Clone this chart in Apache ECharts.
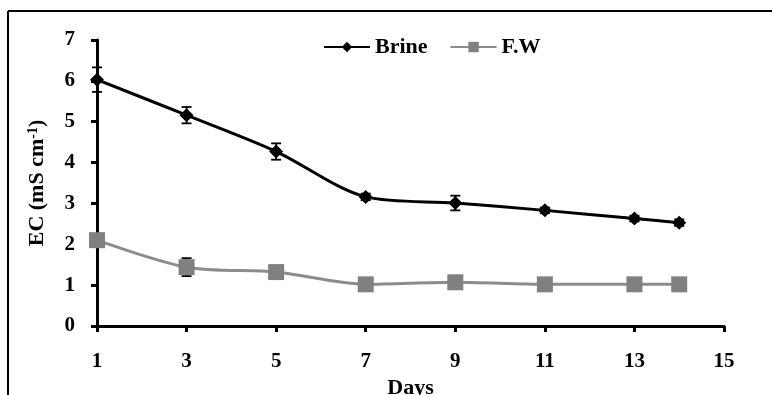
<!DOCTYPE html>
<html>
<head>
<meta charset="utf-8">
<script src="https://cdn.jsdelivr.net/npm/echarts@6/dist/echarts.min.js"></script>
<style>
html, body { margin: 0; padding: 0; background: #fff; }
#chart { width: 772px; height: 395px; }
</style>
</head>
<body>
<div id="chart"></div>
<script>
// data
var days = [1, 3, 5, 7, 9, 11, 13, 14];
var brine = [6.03, 5.16, 4.27, 3.16, 3.01, 2.83, 2.63, 2.53];
var brineErr = [0.3, 0.2, 0.2, 0.08, 0.18, 0.07, 0.07, 0.08];
var fw = [2.1, 1.44, 1.32, 1.02, 1.07, 1.02, 1.02, 1.02];
var fwErr = [0.1, 0.22, 0.07, 0.05, 0.05, 0.05, 0.05, 0.05];
var xTicks = [1, 3, 5, 7, 9, 11, 13, 15];

var chart = echarts.init(document.getElementById('chart'));

var font = 'Liberation Serif, Times New Roman, serif';

function pairs(xs, ys) {
    var out = [];
    for (var i = 0; i < xs.length; i++) out.push([xs[i], ys[i]]);
    return out;
}
function errData(xs, ys, es) {
    var out = [];
    for (var i = 0; i < xs.length; i++) out.push([xs[i], ys[i] - es[i], ys[i] + es[i]]);
    return out;
}
function errBars(color) {
    return function (params, api) {
        var lo = api.coord([api.value(0), api.value(1)]);
        var hi = api.coord([api.value(0), api.value(2)]);
        var w = 5;
        var st = { stroke: color, lineWidth: 1.8 };
        return {
            type: 'group',
            children: [
                { type: 'line', shape: { x1: lo[0], y1: lo[1], x2: hi[0], y2: hi[1] }, style: st },
                { type: 'line', shape: { x1: lo[0] - w, y1: lo[1], x2: lo[0] + w, y2: lo[1] }, style: st },
                { type: 'line', shape: { x1: hi[0] - w, y1: hi[1], x2: hi[0] + w, y2: hi[1] }, style: st }
            ]
        };
    };
}

var option = {
    animation: false,
    backgroundColor: '#fff',
    textStyle: { fontFamily: font },
    graphic: [
        { type: 'line', shape: { x1: 8, y1: 11, x2: 772, y2: 11 }, style: { stroke: '#000', lineWidth: 2 } },
        { type: 'line', shape: { x1: 8, y1: 11, x2: 8, y2: 395 }, style: { stroke: '#000', lineWidth: 2 } }
    ],
    grid: { left: 97, right: 48, top: 40, bottom: 69, outerBoundsMode: 'none' },
    legend: {
        left: 318,
        top: 31,
        itemWidth: 46,
        itemHeight: 13,
        itemGap: 22,
        textStyle: { fontFamily: font, fontWeight: 'bold', fontSize: 22, color: '#000' },
        data: ['Brine', 'F.W']
    },
    xAxis: {
        type: 'value',
        min: 1,
        max: 15,
        interval: 2,
        name: 'Days',
        nameLocation: 'middle',
        nameGap: 50,
        nameTextStyle: { fontFamily: font, fontWeight: 'bold', fontSize: 22, color: '#000' },
        axisLine: { lineStyle: { color: '#000', width: 3 } },
        axisTick: { show: true, length: 6, lineStyle: { color: '#000', width: 3 } },
        axisLabel: { margin: 25, fontFamily: font, fontWeight: 'bold', fontSize: 21, color: '#000' },
        splitLine: { show: false }
    },
    yAxis: {
        type: 'value',
        min: 0,
        max: 7,
        interval: 1,
        name: '{a|EC (mS cm}{b|-1}{a|)}',
        nameLocation: 'middle',
        nameGap: 48,
        nameTextStyle: {
            rich: {
                a: { fontFamily: font, fontWeight: 'bold', fontSize: 22, color: '#000' },
                b: { fontFamily: font, fontWeight: 'bold', fontSize: 14, color: '#000', verticalAlign: 'top', padding: [0, 0, 9, 0] }
            }
        },
        axisLine: { show: true, lineStyle: { color: '#000', width: 3 } },
        axisTick: { show: true, length: 6, lineStyle: { color: '#000', width: 3 } },
        axisLabel: { margin: 22, fontFamily: font, fontWeight: 'bold', fontSize: 21, color: '#000' },
        splitLine: { show: false }
    },
    series: [
        {
            name: 'Brine',
            type: 'line',
            smooth: 0.3,
            data: pairs(days, brine),
            symbol: 'diamond',
            symbolSize: 14,
            itemStyle: { color: '#000' },
            lineStyle: { color: '#000', width: 3 },
            z: 3
        },
        {
            name: 'F.W',
            type: 'line',
            smooth: 0.3,
            data: pairs(days, fw),
            symbol: 'rect',
            symbolSize: 16,
            itemStyle: { color: '#808080' },
            lineStyle: { color: '#8c8c8c', width: 3 },
            z: 3
        },
        {
            name: 'BrineErr',
            type: 'custom',
            renderItem: errBars('#000'),
            data: errData(days, brine, brineErr),
            encode: { x: 0, y: [1, 2] },
            z: 2
        },
        {
            name: 'FWErr',
            type: 'custom',
            renderItem: errBars('#000'),
            data: errData(days, fw, fwErr),
            encode: { x: 0, y: [1, 2] },
            z: 2
        }
    ]
};

chart.setOption(option);
</script>
</body>
</html>
